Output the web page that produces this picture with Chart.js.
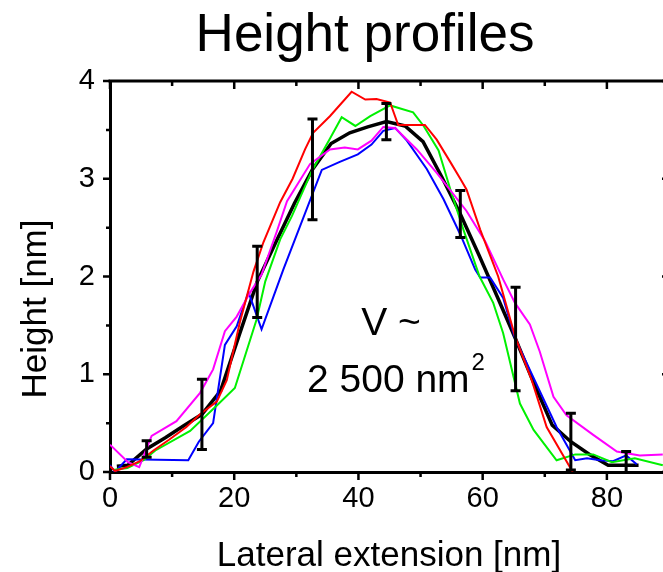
<!DOCTYPE html>
<html>
<head>
<meta charset="utf-8">
<script src="https://cdn.jsdelivr.net/npm/chart.js@4/dist/chart.umd.min.js"></script>
<style>
  html, body { margin: 0; padding: 0; background: #fff; overflow: hidden; }
  #wrap { width: 680px; height: 572px; }
</style>
</head>
<body>
<div id="wrap"><canvas id="c" width="680" height="572"></canvas></div>
<script>
// Individual height profiles (lateral position in nm, height in nm)
const redX = [0, 0.8, 2.7, 4.8, 7.0, 9.5, 12.3, 14.5, 17.2, 18.8, 20.9, 23.1, 24.7, 27.4, 29.4, 31.4, 32.7, 35.4, 38.9, 41.1, 42.9, 45.1, 46.4, 48.6, 50.7, 52.6, 54.8, 56.4, 57.4, 59.6, 62.5, 65.2, 67.9, 70.3, 74.5];
const redY = [0.06, 0.01, 0.05, 0.11, 0.22, 0.33, 0.46, 0.59, 0.72, 0.94, 1.53, 2.05, 2.35, 2.76, 3.0, 3.30, 3.47, 3.64, 3.89, 3.81, 3.815, 3.78, 3.55, 3.55, 3.55, 3.40, 3.17, 3.0, 2.89, 2.48, 2.0, 1.39, 0.94, 0.46, 0.0];

const greenX = [0.5, 2.8, 5.4, 7.3, 12.9, 17.2, 20.1, 23.6, 25.0, 27.4, 29.3, 32.5, 35.4, 37.3, 39.5, 41.9, 45.1, 48.8, 50.5, 52.9, 54.8, 56.9, 59.5, 61.7, 63.3, 66.0, 68.2, 71.9, 74.9, 77.8, 80.8, 84.5, 89];
const greenY = [0.02, 0.04, 0.12, 0.22, 0.42, 0.68, 0.86, 1.56, 1.95, 2.38, 2.62, 3.08, 3.41, 3.63, 3.54, 3.64, 3.75, 3.68, 3.54, 3.29, 2.89, 2.48, 2.0, 1.73, 1.42, 0.70, 0.43, 0.12, 0.18, 0.18, 0.10, 0.14, 0.07];

const blueX = [0, 0.8, 2.7, 12.6, 14.3, 16.6, 18.5, 20.4, 22.3, 24.4, 27.9, 34.1, 36.9, 39.9, 42.1, 44.0, 45.9, 47.8, 51.0, 53.7, 56.4, 58.8, 59.6, 61.2, 63.3, 65.2, 71.9, 74.9, 76.8, 78.9, 81.0, 83.1, 84.8];
const blueY = [0.07, 0.0, 0.13, 0.12, 0.31, 0.50, 1.30, 1.49, 1.84, 1.46, 2.07, 3.09, 3.17, 3.25, 3.35, 3.49, 3.52, 3.39, 3.10, 2.79, 2.43, 2.07, 1.99, 1.99, 1.78, 1.37, 0.46, 0.12, 0.14, 0.12, 0.11, 0.17, 0.08];

const magentaX = [0, 2.9, 4.7, 6.7, 10.7, 14.5, 16.6, 18.5, 20.4, 22.5, 24.4, 26.8, 28.5, 32.2, 35.4, 37.8, 39.9, 42.1, 44.0, 45.9, 49.4, 52.6, 57.4, 60.4, 63.3, 65.2, 67.6, 69.2, 71.4, 73.5, 77.8, 81.6, 85.3, 89];
const magentaY = [0.28, 0.10, 0.05, 0.37, 0.52, 0.81, 1.05, 1.44, 1.59, 1.83, 2.02, 2.45, 2.77, 3.15, 3.30, 3.32, 3.30, 3.39, 3.53, 3.52, 3.30, 3.06, 2.67, 2.36, 1.97, 1.73, 1.51, 1.23, 0.77, 0.58, 0.38, 0.21, 0.17, 0.18];

// Averaged profile with standard deviation at selected points
const meanX = [1.1, 2.9, 5.9, 8.9, 11.8, 14.8, 17.8, 20.8, 23.7, 26.7, 29.7, 32.6, 35.6, 38.6, 41.5, 44.5, 47.5, 50.4, 53.4, 56.4, 59.4, 62.3, 65.3, 68.3, 71.2, 74.2, 77.2, 80.2, 83.1, 85.1];
const meanY = [0.06, 0.07, 0.235, 0.35, 0.47, 0.59, 0.83, 1.40, 1.945, 2.35, 2.75, 3.095, 3.36, 3.47, 3.53, 3.585, 3.54, 3.38, 3.02, 2.64, 2.22, 1.80, 1.36, 0.90, 0.48, 0.31, 0.18, 0.07, 0.07, 0.07];
const errIndex = [2, 5, 8, 11, 15, 19, 22, 25, 28];
const errDev = [0.085, 0.36, 0.365, 0.515, 0.185, 0.24, 0.53, 0.29, 0.14];

// Axis ticks
const xTicks = [0, 20, 40, 60, 80];
const yTicks = [0, 1, 2, 3, 4];

const FONT = 'Arial, "Liberation Sans", Helvetica, sans-serif';
const pts = (xs, ys) => xs.map((x, i) => ({ x, y: ys[i] }));

const series = (label, xs, ys, color, width) => ({
  label, data: pts(xs, ys), borderColor: color, backgroundColor: color,
  borderWidth: width, pointRadius: 0, tension: 0, fill: false
});

const decorations = {
  id: 'decorations',
  afterDatasetsDraw(chart) {
    const { ctx, chartArea: a, scales: { x, y } } = chart;
    ctx.save();
    ctx.beginPath();
    ctx.rect(a.left, a.top - 6, a.right - a.left, a.bottom - a.top + 6);
    ctx.clip();
    ctx.strokeStyle = '#000';
    ctx.lineWidth = 3;
    errIndex.forEach((idx, i) => {
      const px = x.getPixelForValue(meanX[idx]);
      const top = y.getPixelForValue(meanY[idx] + errDev[i]);
      const bot = y.getPixelForValue(meanY[idx] - errDev[i]);
      ctx.beginPath();
      ctx.moveTo(px, top); ctx.lineTo(px, bot);
      ctx.moveTo(px - 5, top); ctx.lineTo(px + 5, top);
      ctx.moveTo(px - 5, bot); ctx.lineTo(px + 5, bot);
      ctx.stroke();
    });
    ctx.restore();
  },
  afterDraw(chart) {
    const { ctx, chartArea: a, scales: { x, y } } = chart;
    ctx.save();
    ctx.strokeStyle = '#000';
    ctx.fillStyle = '#000';
    // top and right frame lines
    ctx.lineWidth = 3;
    ctx.beginPath();
    ctx.moveTo(a.left - 1.5, a.top); ctx.lineTo(a.right, a.top); ctx.lineTo(a.right, a.bottom);
    ctx.stroke();
    // tick marks: outward on bottom/left, inward on top/right
    ctx.lineWidth = 2.5;
    ctx.beginPath();
    for (let v = 0; v <= 90; v += 10) {
      const px = x.getPixelForValue(v);
      const len = v % 20 === 0 ? 8 : 5;
      ctx.moveTo(px, a.bottom); ctx.lineTo(px, a.bottom + len);
      ctx.moveTo(px, a.top); ctx.lineTo(px, a.top + len);
    }
    for (let v = 0; v <= 4; v += 0.5) {
      const py = y.getPixelForValue(v);
      const len = Number.isInteger(v) ? 7 : 4;
      ctx.moveTo(a.left - len, py); ctx.lineTo(a.left, py);
      ctx.moveTo(a.right - len, py); ctx.lineTo(a.right, py);
    }
    ctx.stroke();

    // chart title
    ctx.textAlign = 'center';
    ctx.textBaseline = 'alphabetic';
    ctx.font = '53px ' + FONT;
    ctx.fillText('Height profiles', 365, 51);

    // axis titles
    ctx.font = '35px ' + FONT;
    ctx.fillText('Lateral extension [nm]', 389, 566);
    ctx.save();
    ctx.translate(46, 309);
    ctx.rotate(-Math.PI / 2);
    ctx.fillText('Height [nm]', 0, 0);
    ctx.restore();

    // volume annotation
    ctx.font = '39px ' + FONT;
    ctx.fillText('V ~', 391, 335);
    ctx.textAlign = 'left';
    const main = '2 500 nm';
    ctx.fillText(main, 307, 392);
    const w = ctx.measureText(main).width;
    ctx.font = '24px ' + FONT;
    ctx.fillText('2', 307 + w + 2, 370);
    ctx.restore();
  }
};

new Chart(document.getElementById('c'), {
  type: 'line',
  data: {
    datasets: [
      series('red', redX, redY, '#ff0000', 2),
      series('magenta', magentaX, magentaY, '#ff00ff', 2),
      series('green', greenX, greenY, '#00f000', 2),
      series('blue', blueX, blueY, '#0000ff', 2),
      series('mean', meanX, meanY, '#000000', 3.5)
    ]
  },
  options: {
    responsive: false,
    animation: false,
    devicePixelRatio: 1,
    layout: { padding: { top: 81, right: 11, bottom: 0, left: 0 } },
    plugins: { legend: { display: false }, title: { display: false }, tooltip: { enabled: false } },
    scales: {
      x: {
        type: 'linear', min: 0, max: 90,
        afterFit(s) { s.height = 100; },
        afterBuildTicks(s) { s.ticks = xTicks.map(v => ({ value: v })); },
        grid: { display: false, drawTicks: false },
        border: { display: true, color: '#000', width: 3 },
        ticks: { color: '#000', font: { family: FONT, size: 29 }, padding: 10, maxRotation: 0 }
      },
      y: {
        type: 'linear', min: 0, max: 4,
        afterFit(s) { s.width = 110; },
        afterBuildTicks(s) { s.ticks = yTicks.map(v => ({ value: v })); },
        grid: { display: false, drawTicks: false },
        border: { display: true, color: '#000', width: 3 },
        ticks: { color: '#000', font: { family: FONT, size: 29 }, padding: 15 }
      }
    }
  },
  plugins: [decorations]
});
</script>
</body>
</html>
